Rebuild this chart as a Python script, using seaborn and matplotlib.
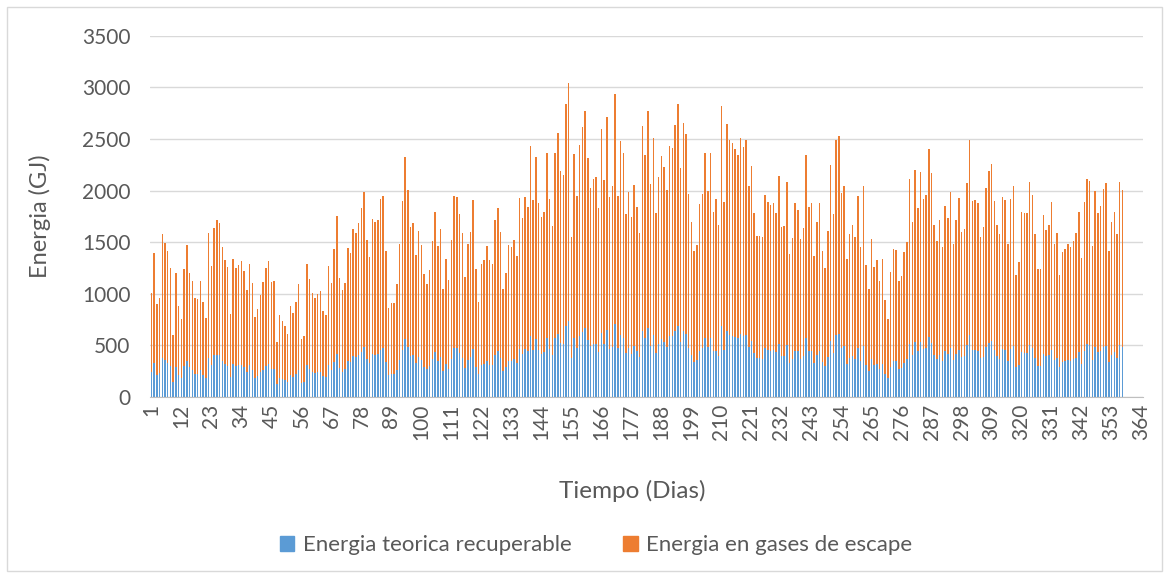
""" Energia diaria en gases de escape y energia teorica recuperable """

import matplotlib.pyplot as plt
import pandas as pd
import seaborn as sns
from matplotlib.patches import Patch, Rectangle

# energia total en gases de escape (GJ), un valor por dia
energia_escape = [
    1013, 1399, 899, 958, 1581, 1490, 1412, 1253, 604, 1205, 880, 757, 1237, 1474, 1205, 1123, 958, 948,
    1123, 925, 766, 1588, 1270, 1643, 1711, 1685, 1458,
    1328, 1263, 802, 1335, 1253, 1276, 1322, 1224, 1036, 1289, 1110, 773, 857, 990, 1114, 1247, 1322, 1114,
    1123, 533, 792, 734, 685, 607, 880, 818, 919, 1097, 562, 594,
    1289, 1143, 1010, 958, 1003, 1029, 831, 792, 1273, 1107, 1438, 1750, 1156, 1036, 1107, 1442, 1396, 1633,
    1585, 1682, 1828, 1990, 1523, 1357, 1727, 1695, 1711, 1916, 1948, 1416,
    864, 909, 916, 1094, 1487, 1896, 2328, 2010, 1646, 1688, 1373, 1611, 1474, 1188, 1097, 1231, 1510, 1796,
    1464, 1630, 1052, 1338, 1133, 1523, 1945, 1942, 1776, 1591, 1162, 1487,
    1598, 1912, 1244, 925, 1289, 1328, 1464, 1325, 1289, 1718, 1831, 1604, 1046, 1201, 1474, 1451, 1520, 1367,
    1932, 1737, 1938, 1844, 2429, 1906, 2325, 1883, 1747, 1789, 2361, 1922,
    1659, 2367, 2555, 2195, 2153, 2844, 3042, 1549, 2357, 1945, 2438, 2614, 2770, 2312, 2023, 2117, 2137, 1828,
    2594, 2107, 2711, 1935, 2046, 2935, 1948, 2477, 2361, 1776, 1990, 1747,
    2052, 1841, 1591, 2624, 2341, 2770, 2065, 2507, 1786, 2137, 2331, 2234, 2010, 2435, 2409, 2633, 2844, 2221,
    2656, 2546, 1968, 1698, 1416, 1477, 1874, 1968, 2361, 1994, 2367, 1792,
    1919, 1669, 2822, 1890, 2650, 2490, 2461, 2400, 2341, 2510, 2419, 2494, 2049, 2240, 1783, 1562, 1562, 1549,
    1955, 1893, 1857, 1883, 1783, 2143, 1646, 1662, 2085, 1386, 1539, 1883,
    1815, 1529, 1636, 2344, 1838, 1883, 1367, 1698, 1880, 1416, 1250, 1607, 2247, 1776, 2494, 2533, 1977, 2049,
    1341, 1581, 1669, 1555, 1951, 1455, 2049, 1283, 1046, 1529, 1263, 1328,
    1123, 1338, 938, 753, 1208, 1432, 1425, 1123, 1172, 1406, 1507, 2111, 1692, 2198, 1828, 2185, 1922, 1958,
    2400, 2175, 1669, 1513, 1714, 1455, 1854, 1737, 1984, 1487, 1718, 1932,
    1598, 1633, 2078, 2487, 1899, 1909, 1883, 1552, 1646, 2026, 2192, 2257, 1903, 1669, 1581, 1942, 1909, 1487,
    1922, 2046, 1185, 1305, 1796, 1786, 1783, 2085, 1961, 1578, 1240,
    1240, 1760, 1617, 1666, 1890, 1484, 1588, 1185, 1406, 1432, 1484, 1455, 1513, 1588, 1796, 1344, 1887, 2117,
    2098, 1468, 1997, 1783, 1854, 2016, 2072, 1412, 1695, 1789, 1578, 2085, 2010,
]

# energia teorica recuperable (GJ)
energia_recuperable = [
    240, 334, 218, 231, 377, 360, 334, 302, 143, 289, 214, 182, 302, 354, 289, 266, 227, 224,
    263, 218, 185, 380, 308, 403, 412, 409, 354,
    321, 302, 198, 321, 302, 308, 315, 295, 247, 308, 263, 185, 205, 240, 263, 302, 318, 270,
    270, 127, 188, 175, 162, 143, 211, 198, 224, 263, 133, 143,
    308, 273, 240, 231, 240, 244, 205, 192, 308, 266, 344, 422, 279, 247, 270, 351, 338, 399,
    386, 406, 438, 484, 367, 328, 416, 406, 416, 458, 471, 341,
    214, 221, 221, 263, 360, 458, 562, 484, 399, 409, 328, 386, 360, 289, 270, 302, 367, 432,
    354, 393, 250, 321, 270, 367, 471, 471, 429, 380, 282, 360,
    386, 464, 295, 221, 308, 318, 351, 315, 308, 412, 442, 383, 250, 289, 354, 354, 367, 328,
    464, 419, 464, 442, 594, 458, 562, 458, 419, 432, 575, 464,
    409, 571, 614, 526, 516, 685, 737, 380, 571, 471, 591, 630, 672, 555, 494, 510, 510, 438,
    623, 510, 653, 464, 487, 711, 471, 597, 571, 425, 477, 419,
    494, 445, 386, 636, 568, 672, 497, 604, 425, 510, 562, 536, 490, 591, 588, 640, 685, 533,
    640, 614, 477, 412, 338, 357, 451, 477, 571, 487, 571, 445,
    451, 399, 685, 458, 636, 601, 594, 581, 568, 607, 588, 601, 490, 542, 425, 380, 380, 373,
    474, 458, 451, 458, 432, 510, 396, 399, 500, 334, 367, 451,
    451, 373, 399, 571, 442, 451, 328, 412, 451, 341, 302, 386, 539, 425, 597, 610, 474, 494,
    321, 380, 399, 373, 471, 351, 497, 308, 250, 367, 308, 321,
    270, 321, 221, 185, 289, 347, 347, 276, 282, 334, 367, 510, 409, 533, 442, 533, 468, 477,
    581, 526, 403, 367, 412, 354, 445, 419, 477, 360, 416, 458,
    386, 399, 503, 597, 458, 458, 451, 377, 393, 484, 523, 542, 458, 399, 373, 464, 458, 354,
    464, 497, 289, 315, 432, 425, 425, 503, 471, 380, 302,
    302, 419, 396, 409, 458, 360, 380, 289, 341, 347, 360, 351, 367, 380, 432, 321, 451, 510,
    503, 360, 484, 432, 451, 484, 497, 341, 412, 432, 380, 500, 490,
]

dias = list(range(1, len(energia_escape) + 1))
ticks_dias = [1, 12, 23, 34, 45, 56, 67, 78, 89, 100, 111, 122, 133, 144, 155, 166, 177, 188, 199,
              210, 221, 232, 243, 254, 265, 276, 287, 298, 309, 320, 331, 342, 353, 364]
ticks_energia = [0, 500, 1000, 1500, 2000, 2500, 3000, 3500]

AZUL = "#5B9BD5"
NARANJA = "#ED7D31"
GRIS_TEXTO = "#595959"

df = pd.DataFrame({"dia": dias, "escape": energia_escape, "recuperable": energia_recuperable})

sns.set_style("white")
plt.rcParams["font.family"] = ["Lato", "DejaVu Sans"]

fig = plt.figure(figsize=(11.69, 5.78), dpi=100)
ax = fig.add_axes([0.1283, 0.313, 0.8494, 0.625])

# orange bars full height, blue drawn over them
sns.barplot(data=df, x="dia", y="escape", color=NARANJA, width=0.55, native_scale=True,
            saturation=1, linewidth=0, ax=ax)
sns.barplot(data=df, x="dia", y="recuperable", color=AZUL, width=0.55, native_scale=True,
            saturation=1, linewidth=0, ax=ax)

ax.set_xlim(0.5, 364.5)
ax.set_ylim(0, 3500)
ax.set_yticks(ticks_energia)
ax.set_xticks(ticks_dias)
ax.set_xticklabels([str(t) for t in ticks_dias], rotation=90)
ax.yaxis.grid(True, color="#D9D9D9", linewidth=1)
ax.set_axisbelow(True)
for side in ["left", "right", "top"]:
    ax.spines[side].set_visible(False)
ax.spines["bottom"].set_color("#BFBFBF")
ax.tick_params(axis="both", labelsize=15, colors=GRIS_TEXTO, length=0)
ax.tick_params(axis="y", pad=14)
ax.tick_params(axis="x", pad=5)

ax.set_xlabel("Tiempo (Dias)", fontsize=17.5, color=GRIS_TEXTO)
ax.xaxis.set_label_coords(0.486, -0.23)
ax.set_ylabel("Energia (GJ)", fontsize=17, color=GRIS_TEXTO, labelpad=22)

handles = [Patch(color=AZUL, label="Energia teorica recuperable"),
           Patch(color=NARANJA, label="Energia en gases de escape")]
leg = fig.legend(handles=handles, loc="center", bbox_to_anchor=(0.51, 0.057), ncol=2,
                 frameon=False, fontsize=16, handlelength=0.65, handleheight=0.65,
                 columnspacing=2.3, handletextpad=0.4)
for txt in leg.get_texts():
    txt.set_color(GRIS_TEXTO)

# chart area border
fig.patches.append(Rectangle((0.006, 0.012), 0.988, 0.976, transform=fig.transFigure,
                             fill=False, edgecolor="#D9D9D9", linewidth=1))

fig.savefig("out.png", dpi=100)
